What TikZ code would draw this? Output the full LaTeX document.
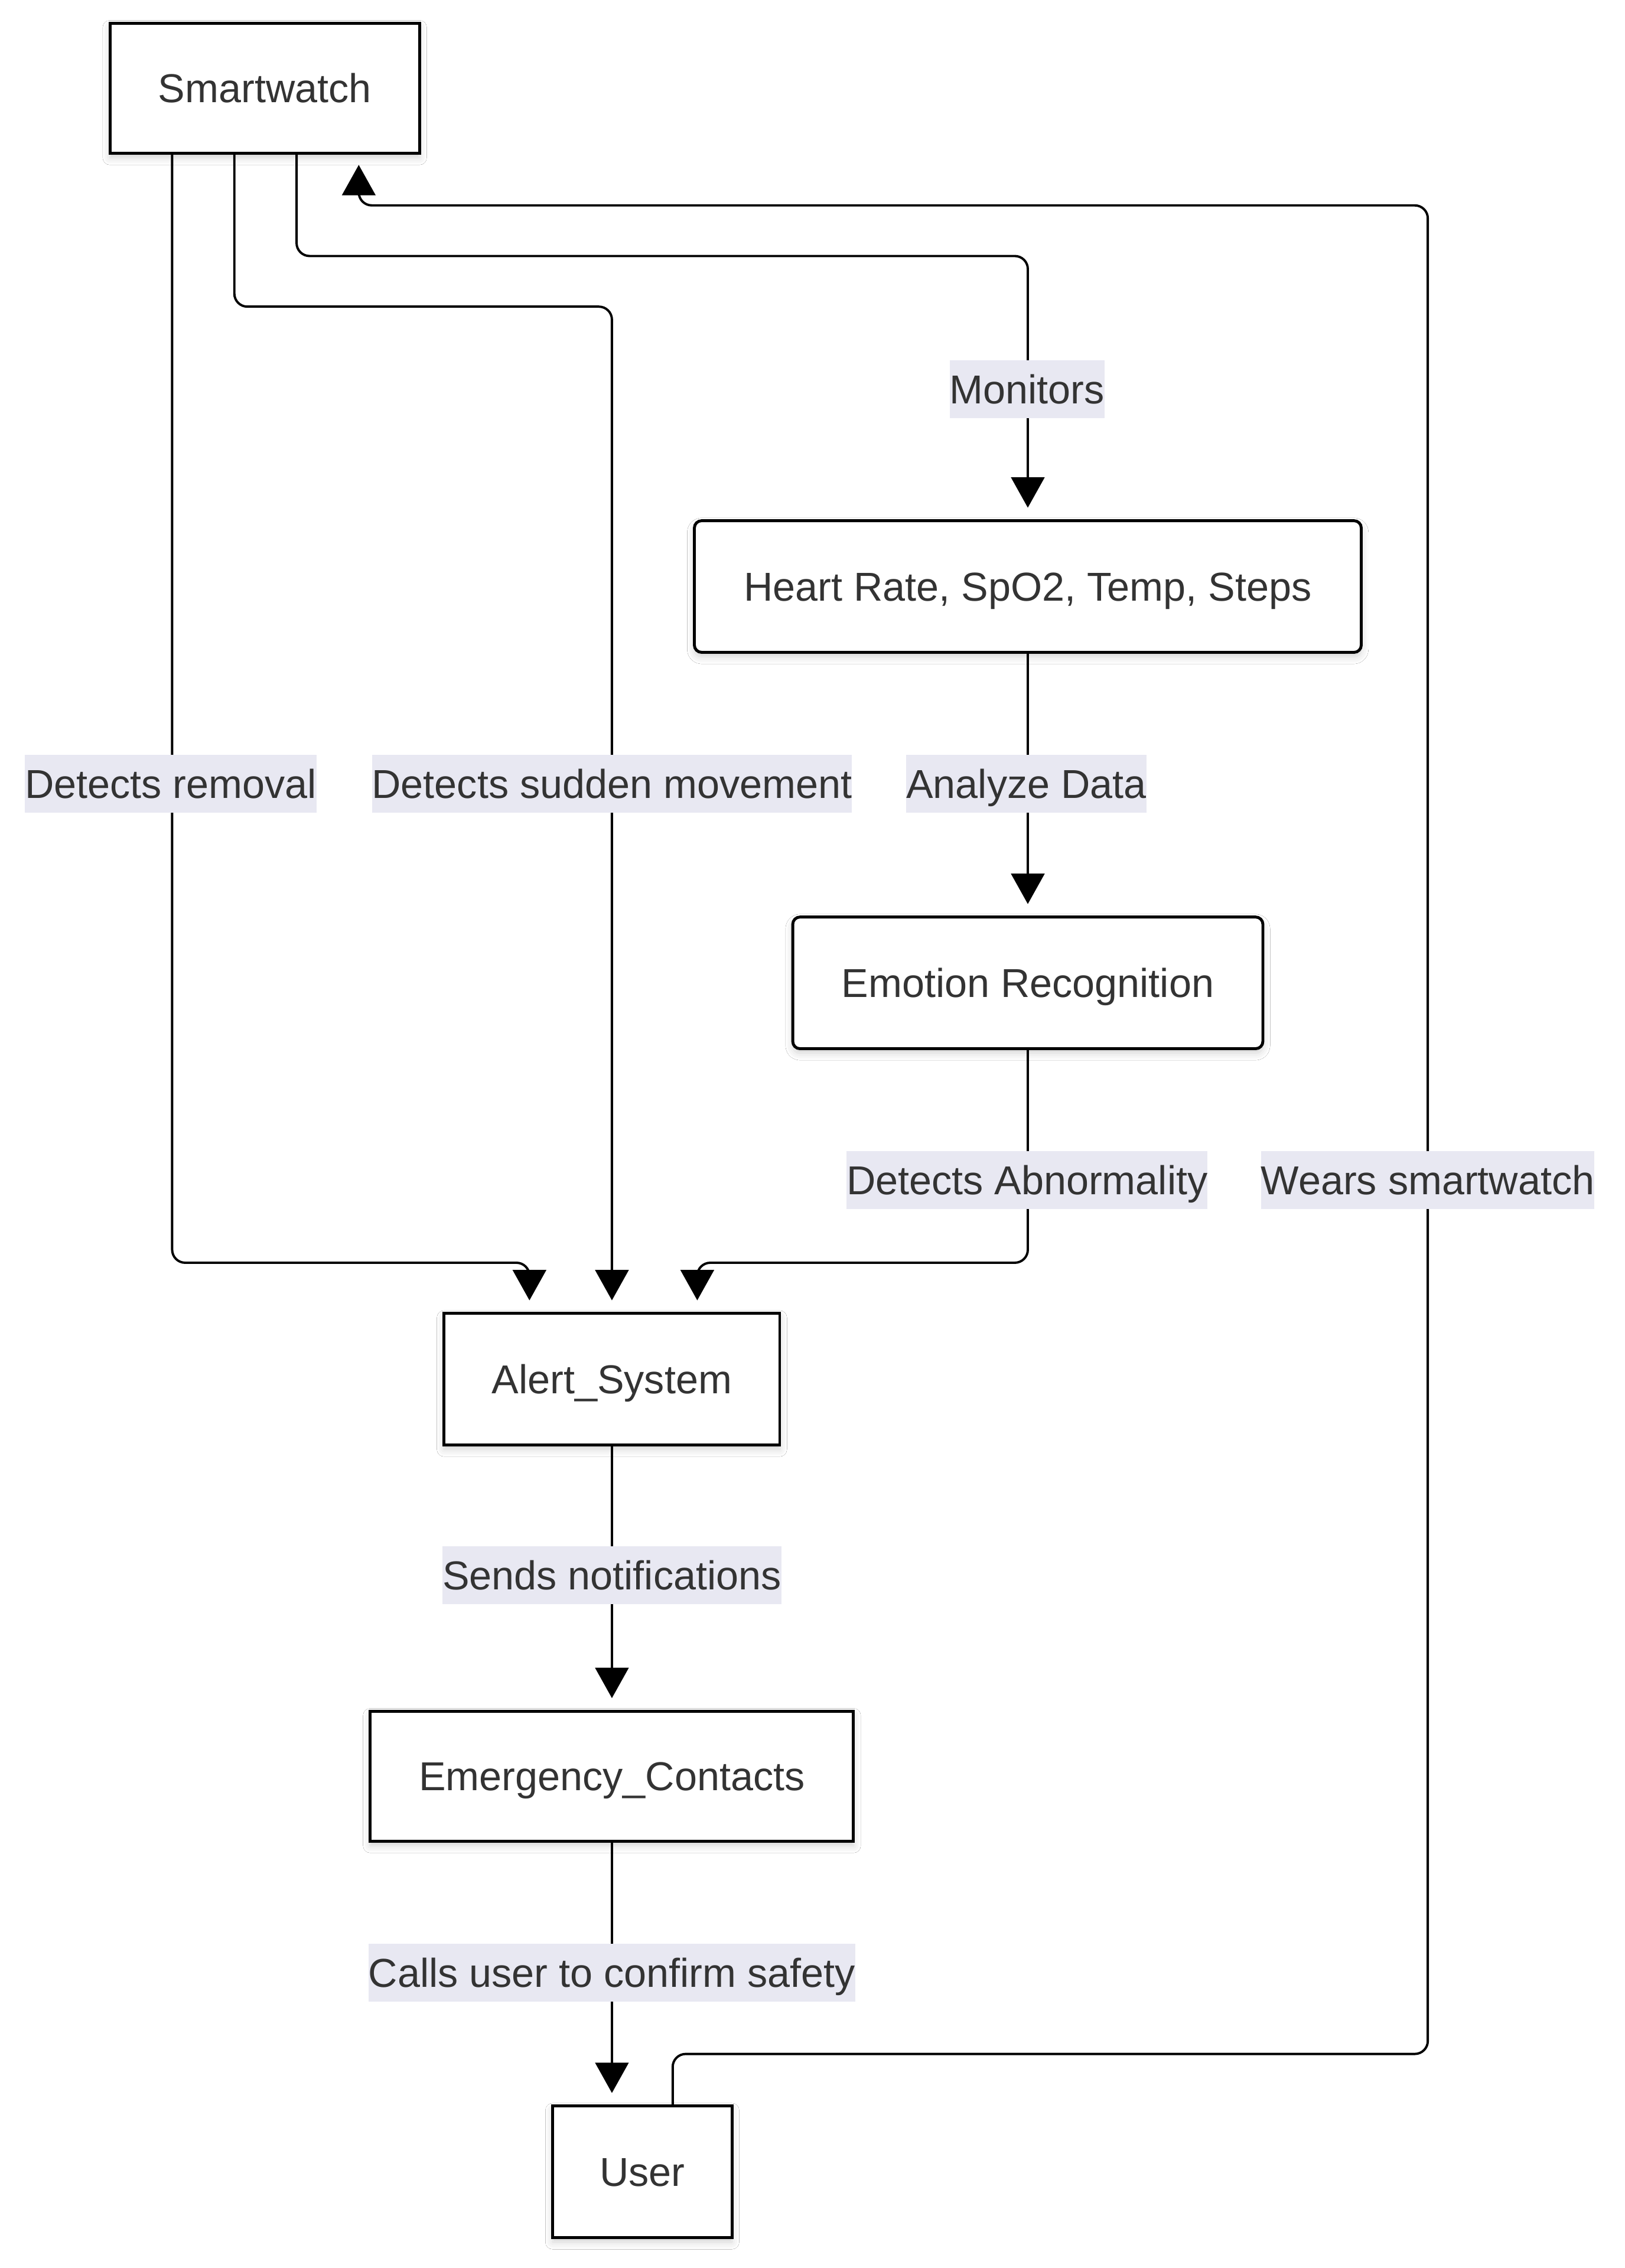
\documentclass[tikz,border=0pt]{standalone}
\usepackage{fontspec}
\setmainfont{Liberation Sans}
\usetikzlibrary{arrows.meta,shadows.blur}
\definecolor{txt}{RGB}{51,51,51}
\definecolor{lblbg}{RGB}{232,232,242}
\tikzset{
  box/.style={draw=black, line width=2pt, fill=white, inner sep=0pt, text=txt,
    font=\fontsize{27.9}{33}\selectfont, text height=20pt, text depth=0pt,
    blur shadow={shadow xshift=0pt, shadow yshift=-3pt, shadow opacity=18, shadow blur radius=5pt}},
  rbox/.style={box, rounded corners=5pt},
  edge/.style={draw=black, line width=1.6pt, rounded corners=9pt,
    -{Triangle[width=23pt,length=21pt]}},
  lbl/.style={fill=lblbg, inner xsep=0pt, inner ysep=0pt, minimum height=40pt,
    text height=20pt, text depth=0pt,
    text=txt, font=\fontsize{27.9}{33}\selectfont, anchor=center},
}
\begin{document}
\begin{tikzpicture}[x=1pt,y=-1pt]
\useasboundingbox[fill=white] (0,0) rectangle (1123,1568);

\node[box, minimum width=214pt, minimum height=90pt] (sw) at (183,61) {Smartwatch};
\node[rbox, minimum width=461pt, minimum height=91pt] (hr) at (710.5,405.5) {Heart Rate, SpO2, Temp, Steps};
\node[rbox, minimum width=325pt, minimum height=91pt] (er) at (710.5,679.5) {Emotion Recognition};
\node[box, minimum width=232pt, minimum height=91pt] (al) at (423,953.5) {Alert\_System};
\node[box, minimum width=334pt, minimum height=90pt] (ec) at (423,1228) {Emergency\_Contacts};
\node[box, minimum width=124pt, minimum height=91pt] (us) at (444,1501.5) {User};

% Smartwatch -> Heart Rate (Monitors)
\draw[edge] ([xshift=22pt]sw.south) -- ([xshift=22pt]sw.south |- 0,177)
  -- (hr.north |- 0,177) -- ([yshift=8pt]hr.north);
% Smartwatch -> Alert (sudden movement)
\draw[edge] ([xshift=-21pt]sw.south) -- ([xshift=-21pt]sw.south |- 0,212)
  -- (al.north |- 0,212) -- ([yshift=8pt]al.north);
% Smartwatch -> Alert (removal)
\draw[edge] ([xshift=-64pt]sw.south) -- ([xshift=-64pt]sw.south |- 0,873)
  -- ([xshift=-57pt]al.north |- 0,873) -- ([xshift=-57pt,yshift=8pt]al.north);
% Emotion -> Alert (abnormality)
\draw[edge] (er.south) -- (er.south |- 0,873)
  -- ([xshift=59pt]al.north |- 0,873) -- ([xshift=59pt,yshift=8pt]al.north);
% Heart -> Emotion
\draw[edge] (hr.south) -- ([yshift=8pt]er.north);
% Alert -> Emergency
\draw[edge] (al.south) -- ([yshift=8pt]ec.north);
% Emergency -> User
\draw[edge] (ec.south) -- ([xshift=-21pt,yshift=8pt]us.north);
% User -> Smartwatch (wears)
\draw[edge] ([xshift=21pt]us.north) -- ([xshift=21pt]us.north |- 0,1420)
  -- (987,1420) -- (987,142) -- ([xshift=65pt]sw.south |- 0,142)
  -- ([xshift=65pt,yshift=-7pt]sw.south);

\node[lbl] (l1) at (710,269) {Monitors};
\node[lbl] (l2) at (709.5,542) {Analyze Data};
\node[lbl] (l3) at (118,542) {Detects removal};
\node[lbl] (l4) at (423,542) {Detects sudden movement};
\node[lbl] (l5) at (710,816) {Detects Abnormality};
\node[lbl] (l6) at (987,816) {Wears smartwatch};
\node[lbl] (l7) at (423,1089) {Sends notifications};
\node[lbl] (l8) at (423,1364) {Calls user to confirm safety};
\end{tikzpicture}
\end{document}
